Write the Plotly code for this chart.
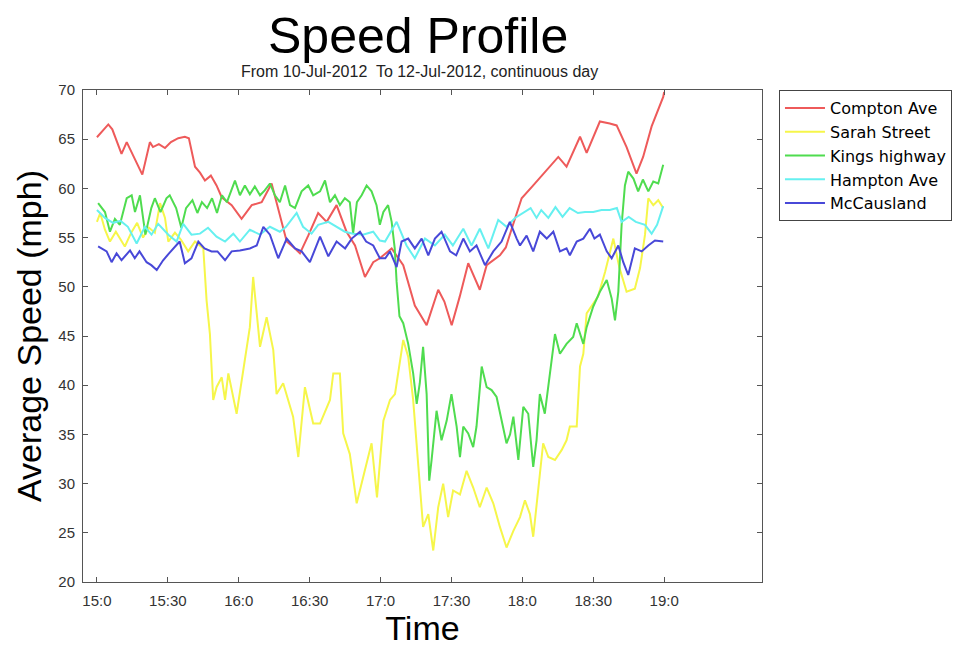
import plotly.graph_objects as go

# time in minutes after 15:00
tick_vals = [0, 30, 60, 90, 120, 150, 180, 210, 240]
tick_text = ["15:0", "15:30", "16:0", "16:30", "17:0", "17:30", "18:0", "18:30", "19:0"]
y_ticks = [20, 25, 30, 35, 40, 45, 50, 55, 60, 65, 70]

compton_t = [0, 2.5, 4.8, 6.5, 8.3, 10.4, 12.6, 14.7, 19.2, 22.4, 23.7, 26.2, 28.8, 31.3, 34.4, 37.2, 38.9,
             41.5, 43.6, 45.7, 48.2, 50.6, 52.8, 57, 61.2, 65.5, 69.7, 73.9, 77.4, 80.3, 83.8, 85.9, 89.4,
             93.6, 97.2, 101.4, 105.6, 109.2, 113.4, 116.9, 119.7, 124.7, 129.6, 134.5, 139.5, 144.4, 147,
             150.1, 153.5, 157.1, 162, 164.9, 170.5, 173, 175.5, 179.7, 184.6, 190.3, 195.2, 198.7, 204.4, 207.2,
             212.8, 217, 219.9, 224.1, 228.3, 231.1, 234.7, 239.6, 240]
compton_v = [65.2, 65.9, 66.5, 66.0, 64.9, 63.5, 64.7, 63.6, 61.4, 64.7, 64.2, 64.5, 64.1, 64.7, 65.1, 65.25, 65.1,
             62.2, 61.6, 60.8, 61.3, 60.3, 59.1, 58.3, 56.9, 58.3, 58.6, 60.5, 57.3, 54.6, 53.9, 53.4, 55.2,
             57.5, 56.6, 58.3, 55.6, 54.2, 51.0, 52.5, 52.9, 53.9, 52.2, 48.1, 46.1, 49.7, 48.5,
             46.1, 49.0, 52.4, 49.7, 52.2, 53.2, 54.0, 55.9, 59.0, 60.3, 61.9, 63.2, 62.2, 65.25, 63.6,
             66.8, 66.6, 66.4, 64.2, 61.5, 63.2, 66.3, 69.3, 69.8]

sarah_t = [0, 1.4, 3.4, 5.5, 8, 10.4, 11.8, 14.5, 17, 19.5, 22, 24.5, 26.7, 28.8, 30.2, 33, 35.5, 38.6, 41.5,
           45, 46.4, 47.8, 49.2, 50.6, 52.8, 54.2, 55.6, 59.1, 61.9, 64.7, 66.1, 69, 71.8, 74.6, 76, 78.8,
           83, 85.2, 88, 91.5, 94.4, 98.6, 100, 102.8, 104.2, 107, 109.9, 112.7, 116.2, 118.5, 121.2, 124,
           126.1, 129.6, 131.7, 133.8, 136, 138, 140.2, 142.3, 144.4, 146.5, 148.6, 150.7, 153.6, 156.4,
           159.2, 162, 164.9, 167.7, 170.5, 173.3, 176.2, 179, 181.1, 183.2, 184.6, 186.7, 188.8, 191,
           193.8, 196.6, 198.7, 200.1, 203, 204.4, 205.8, 207.2, 209.3, 212, 215, 218.5, 221, 224.1, 227.6,
           229.8, 231.9, 233.3, 235.4, 237.5, 239.6]
sarah_v = [56.6, 57.5, 55.8, 54.6, 55.6, 54.6, 54.1, 55.5, 56.5, 55.0, 56.0, 55.5, 58.5, 57.0, 54.6, 55.5, 54.8,
           53.6, 54.6, 53.9, 48.6, 45.2, 38.5, 39.8, 40.8, 38.5, 41.2, 37.1, 41.5, 45.9, 51.0, 43.9, 46.9,
           43.6, 39.1, 40.2, 36.8, 32.7, 39.8, 36.1, 36.1, 38.5, 41.2, 41.2, 35.1, 33.0, 28.0, 30.7, 34.1,
           28.6, 36.4, 38.5, 39.1, 44.6, 42.9, 38.5, 31.7, 25.6, 26.9, 23.2, 27.6, 30.0, 26.6, 29.3, 28.9,
           31.3, 29.6, 27.6, 29.6, 28.0, 25.6, 23.5, 25.2, 26.6, 28.3, 26.9, 24.6, 29.6, 34.1, 32.7, 32.4,
           33.4, 34.4, 35.8, 35.8, 41.9, 43.2, 47.3, 48.1, 49.0, 51.5, 54.9, 52.0, 49.5, 49.8, 51.9, 55.3,
           59.0, 58.3, 58.8, 58.0]

kings_t = [0.5, 3.4, 5.5, 7.6, 9.7, 12.6, 14.7, 16.1, 18.2, 20.5, 23, 24.5, 26.9, 29.4, 30.8, 33.5, 35.7, 37.7,
           40.4, 42.5, 44.4, 46.6, 48.7, 50.8, 52.9, 55, 58.4, 60.5, 62.6, 64.7, 66.8, 69, 71, 73.2, 75.3,
           77.4, 79.6, 81.7, 83.8, 86.6, 89.4, 91.5, 94.4, 96.5, 98.6, 100.7, 102.8, 104.9, 107, 108.4, 110,
           112, 114.1, 116.2, 118.3, 119.7, 121.2, 123.2, 124.7, 126, 126.8, 128, 129.6, 131.7, 133.8, 135.3,
           136.6, 138, 139.5, 140.6, 141.6, 143.7, 145.8, 148, 150, 152.2, 153.6, 155, 157.1, 159.2, 160.6,
           162.8, 164.9, 167, 169.1, 171.2, 173.3, 174.8, 176.2, 178.3, 180.4, 182.5, 184.6, 186, 187.4,
           189.5, 192.4, 193.8, 195.9, 198.7, 201.5, 203, 205.8, 207.2, 210, 212.8, 215.7, 217.8, 219.2,
           220.6, 222, 223.4, 224.8, 227, 229, 231, 233.3, 235.4, 237.5, 239.6]
kings_v = [58.5, 57.6, 55.6, 56.9, 56.3, 59.0, 59.3, 57.6, 59.3, 55.3, 58.0, 59.0, 57.6, 59.0, 59.3, 58.0, 56.0,
           58.0, 58.8, 57.5, 58.6, 58.0, 59.0, 57.5, 59.3, 58.6, 60.8, 59.3, 60.3, 59.4, 60.2, 59.3, 59.8,
           60.5, 59.3, 58.6, 60.3, 58.3, 58.0, 59.7, 60.3, 59.3, 59.7, 60.8, 58.6, 59.3, 58.3, 59.0, 58.6,
           55.4, 58.6, 59.3, 60.3, 59.7, 58.3, 56.3, 57.6, 58.3, 56.6, 53.9, 50.5, 47.0, 46.3, 44.2, 41.2,
           38.1, 40.2, 43.9, 39.1, 30.3, 32.4, 37.4, 34.4, 36.4, 39.1, 35.8, 32.7, 35.8, 35.1, 33.7, 35.8,
           41.9, 39.8, 39.5, 38.8, 36.4, 34.1, 35.0, 36.8, 32.4, 37.8, 37.1, 31.7, 34.4, 39.1, 37.1, 42.2,
           45.2, 43.2, 44.2, 44.9, 46.3, 44.2, 45.9, 48.0, 49.5, 50.7, 48.8, 46.6, 49.5, 56.3, 60.3, 61.7,
           61.0, 59.7, 60.9, 59.7, 60.7, 60.5, 62.4]

hampton_t = [0, 3.4, 6.8, 10, 13.1, 16.8, 20.3, 23.1, 25.9, 30.2, 33.7, 36.5, 40, 43.6, 47, 50.6, 54.2, 57.7,
             60.5, 64.7, 69, 73.2, 77.4, 80, 84.5, 87.2, 90.8, 93.6, 97.9, 101.4, 104.9, 108.4, 112.5, 116.9,
             119.7, 121.9, 126.8, 131, 134.5, 138.8, 143, 147.2, 150.6, 155, 158.5, 162, 165.6, 169.8, 173.3,
             176.9, 181, 183.5, 186, 188, 191, 194, 197, 200, 203.5, 206.5, 210, 213.5, 217, 220, 222, 225,
             228, 231.9, 234.7, 237, 239.6]
hampton_v = [57.8, 57.0, 56.5, 56.7, 56.1, 54.4, 56.1, 55.3, 56.4, 55.3, 54.6, 56.4, 55.3, 55.4, 56.0, 55.1,
             54.6, 55.4, 54.6, 55.8, 55.3, 56.1, 55.6, 56.1, 57.5, 56.1, 55.4, 56.3, 56.6, 56.1, 55.6, 55.4,
             55.3, 55.6, 54.7, 54.6, 56.6, 54.2, 52.9, 54.9, 54.2, 55.3, 54.2, 55.9, 54.2, 55.9, 53.9, 56.8,
             56.1, 57.0, 57.6, 58.0, 57.0, 57.8, 57.0, 58.1, 57.1, 58.0, 57.5, 57.6, 57.6, 57.8, 57.8, 58.0,
             56.6, 57.1, 56.6, 56.3, 55.4, 56.3, 58.2]

mccausland_t = [0.5, 4.1, 6.2, 8.3, 10.4, 14, 16, 18, 21, 23, 25.3, 28, 30.5, 33, 35, 37.2, 40, 42.9, 45.5,
                48.5, 51, 54.2, 57, 60.5, 64.7, 67.6, 70.4, 73.2, 76.7, 80.3, 83.8, 86.6, 90.1, 94.4, 97.9,
                101.4, 105, 107.8, 111.3, 113.9, 116.9, 119.7, 122, 124, 126.8, 128.9, 131.7, 134.5, 137.4,
                140.2, 143, 145.8, 149.4, 152, 155, 157.8, 160.6, 164.2, 167.7, 171.2, 174.7, 177.6, 179,
                181.8, 184.6, 187.4, 190.3, 193.1, 195.9, 198.7, 200.1, 203, 205.8, 208.6, 210.5, 212.8,
                215.7, 217.8, 220.6, 222.7, 224.8, 227.6, 230.5, 233.3, 236.1, 239.6]
mccausland_v = [54.1, 53.6, 52.5, 53.4, 52.7, 53.7, 52.9, 53.6, 52.5, 52.2, 51.7, 52.7, 53.4, 54.1, 54.6, 52.4,
                52.9, 54.6, 53.9, 53.6, 53.6, 52.7, 53.6, 53.7, 53.9, 54.2, 56.1, 55.3, 52.9, 54.9, 53.9,
                53.6, 52.5, 55.1, 53.1, 54.6, 53.9, 54.9, 55.6, 54.6, 54.2, 52.9, 52.9, 53.6, 52.0, 54.6,
                54.9, 53.9, 54.9, 53.2, 54.9, 55.6, 53.6, 53.2, 54.9, 53.6, 54.2, 52.2, 53.6, 54.6, 56.6,
                54.9, 54.2, 55.2, 53.6, 55.6, 54.9, 55.6, 53.6, 53.9, 53.2, 54.6, 54.9, 55.9, 54.9, 55.3,
                53.6, 52.9, 54.2, 52.5, 51.2, 53.9, 53.6, 54.2, 54.7, 54.6]

series = [
    ("Compton Ave", compton_t, compton_v, "#ee5a5a"),
    ("Sarah Street", sarah_t, sarah_v, "#f6f64a"),
    ("Kings highway", kings_t, kings_v, "#4fdc4f"),
    ("Hampton Ave", hampton_t, hampton_v, "#66f0f0"),
    ("McCausland", mccausland_t, mccausland_v, "#4848d8"),
]

fig = go.Figure()
for i, (name, t, v, col) in enumerate(series):
    assert len(t) == len(v), (name, len(t), len(v))
    fig.add_trace(go.Scatter(x=t, y=v, mode="lines", name=name, legendgroup=str(i),
                             line=dict(color=col, width=2)))

axis_common = dict(showline=True, linecolor="#555555", linewidth=1, mirror="ticks",
                   ticks="inside", ticklen=5, tickcolor="#555555", showgrid=False, zeroline=False,
                   tickfont=dict(family="Liberation Sans", size=15, color="#333333"))

# page body has an 8px margin, so the figure is 968x640 and offset by 8px
fig.update_layout(
    width=968, height=640,
    margin=dict(l=75, r=214, t=82, b=66),
    paper_bgcolor="white", plot_bgcolor="white",
    showlegend=True,
    legend=dict(x=1.025, y=1.0, xanchor="left", yanchor="top", bordercolor="#444444", borderwidth=1,
                font=dict(family="DejaVu Sans", size=16, color="black"), tracegroupgap=0,
                itemwidth=40),
    xaxis=dict(range=[-5.9, 281.4], tickvals=tick_vals, ticktext=tick_text, ticklabelstandoff=5,
               title=dict(text="Time", font=dict(family="Liberation Sans", size=34, color="black"), standoff=3),
               **axis_common),
    yaxis=dict(range=[20, 70], tickvals=y_ticks, ticklabelstandoff=4,
               title=dict(text="Average Speed (mph)", font=dict(family="Liberation Sans", size=34, color="black"),
                          standoff=6),
               **axis_common),
    annotations=[
        dict(text="Speed Profile", xref="paper", yref="paper", x=0.493, y=1.11, xanchor="center",
             yanchor="middle", showarrow=False, font=dict(family="Liberation Sans", size=50, color="black")),
        dict(text="From 10-Jul-2012  To 12-Jul-2012, continuous day", xref="paper", yref="paper",
             x=0.4955, y=1.038, xanchor="center", yanchor="middle", showarrow=False,
             font=dict(family="Liberation Sans", size=16, color="#222222")),
    ],
)

fig.write_html("out.html")
